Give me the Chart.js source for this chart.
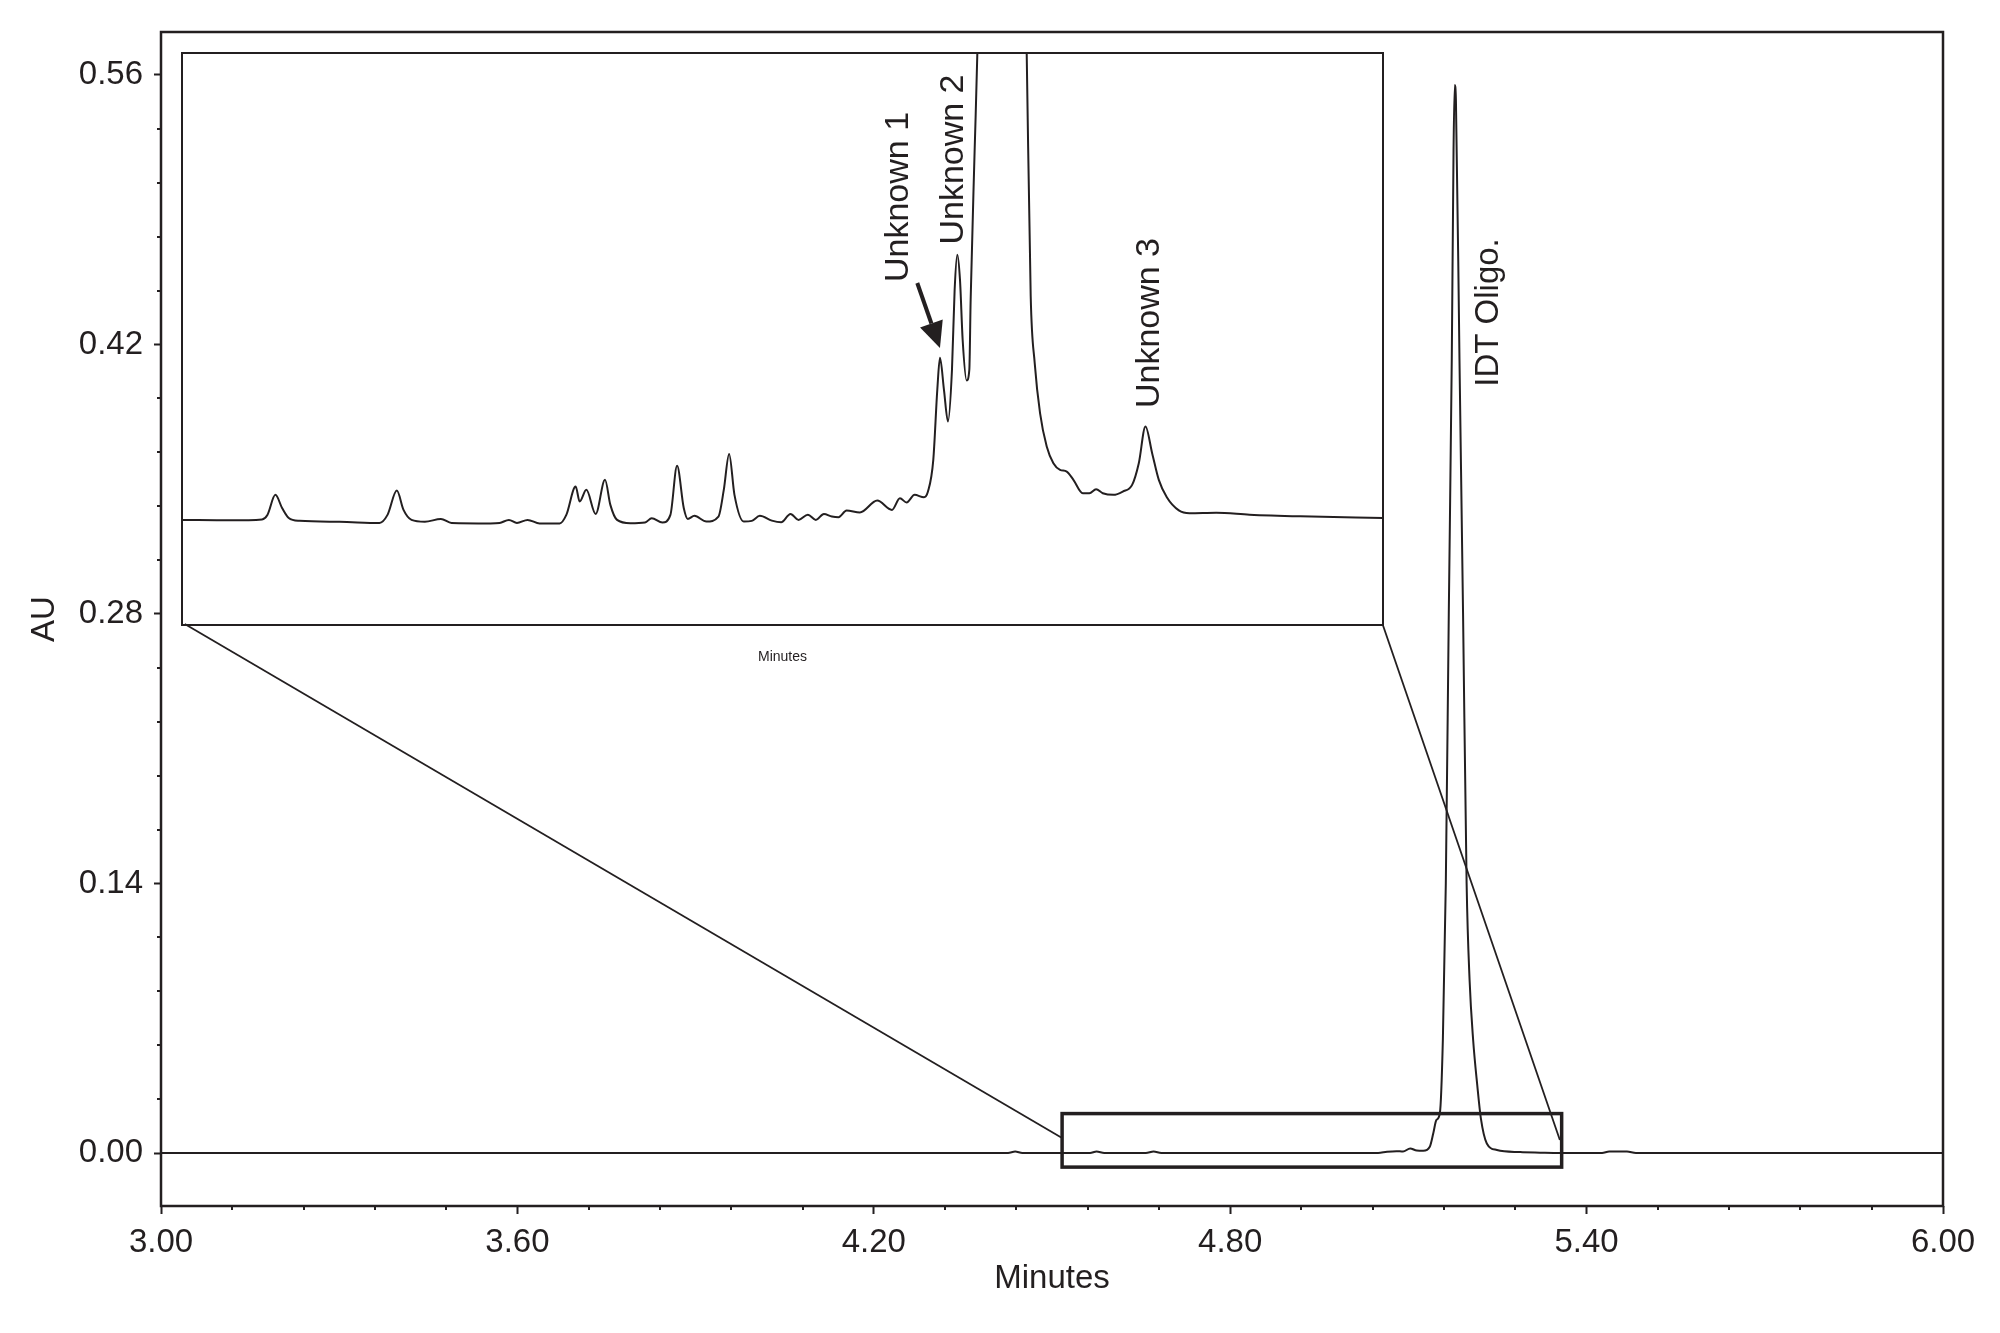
<!DOCTYPE html>
<html>
<head>
<meta charset="utf-8">
<script src="https://cdn.jsdelivr.net/npm/chart.js@4.4.1/dist/chart.umd.min.js"></script>
<style>
  html, body { margin: 0; padding: 0; background: #fff; }
  #wrap { position: relative; width: 2000px; height: 1333px; }
  #main { position: absolute; left: 0; top: 0; }
  #inset { position: absolute; }
</style>
</head>
<body>
<div id="wrap">
  <canvas id="main" width="2000" height="1333"></canvas>
  <canvas id="inset"></canvas>
</div>
<script>
const INK = '#231f20';
const FONT = "'Liberation Sans', Arial, Helvetica, sans-serif";

// full chromatogram (minutes / AU)
const mainTime = [3.000, 4.426, 4.438, 4.450, 4.564, 4.575, 4.588, 4.658, 4.671, 4.684,
  5.049, 5.064, 5.080, 5.091, 5.103, 5.114, 5.125, 5.136, 5.142, 5.147,
  5.153, 5.158, 5.163, 5.168, 5.173, 5.176, 5.178, 5.180, 5.186, 5.192,
  5.198, 5.203, 5.209, 5.216, 5.222, 5.232, 5.249, 5.288, 5.322, 5.355,
  5.426, 5.438, 5.468, 5.483, 6.000];
const mainAU = [0, 0, 0.0008, 0, 0, 0.0008, 0, 0, 0.0008, 0,
  0, 0.0007, 0.0010, 0.0008, 0.0024, 0.0013, 0.0012, 0.0033, 0.0104, 0.0171,
  0.0208, 0.0587, 0.1403, 0.2805, 0.4119, 0.5210, 0.5548, 0.5470, 0.4119, 0.2805,
  0.1403, 0.0899, 0.0587, 0.0350, 0.0180, 0.0050, 0.0016, 0.0005, 0.0002, 0,
  0, 0.0008, 0.0008, 0, 0];

// expanded view (minutes / mAU)
const insetTime = [4.500, 4.536, 4.560, 4.564, 4.570, 4.575, 4.580, 4.588, 4.618, 4.648,
  4.654, 4.661, 4.666, 4.672, 4.682, 4.694, 4.702, 4.731, 4.738, 4.745,
  4.751, 4.759, 4.768, 4.783, 4.788, 4.795, 4.798, 4.803, 4.810, 4.817,
  4.821, 4.826, 4.836, 4.847, 4.852, 4.860, 4.866, 4.871, 4.876, 4.879,
  4.884, 4.893, 4.902, 4.906, 4.910, 4.914, 4.921, 4.927, 4.933, 4.942,
  4.949, 4.956, 4.962, 4.969, 4.975, 4.981, 4.987, 4.992, 4.998, 5.008,
  5.021, 5.032, 5.038, 5.043, 5.049, 5.056, 5.059, 5.063, 5.066, 5.068,
  5.071, 5.074, 5.077, 5.079, 5.081, 5.083, 5.085, 5.088, 5.090, 5.091,
  5.094, 5.096, 5.102, 5.113, 5.127, 5.133, 5.136, 5.139, 5.143, 5.148,
  5.153, 5.158, 5.163, 5.168, 5.175, 5.180, 5.185, 5.190, 5.198, 5.205,
  5.212, 5.217, 5.222, 5.227, 5.232, 5.238, 5.247, 5.255, 5.275, 5.300,
  5.338, 5.400];
const insetMAU = [0, -0.02, 0.02, 0.21, 1.05, 0.50, 0.08, -0.04, -0.08, -0.13,
  0.21, 1.23, 0.42, 0, -0.08, 0.04, -0.13, -0.15, -0.13, 0,
  -0.13, 0, -0.15, -0.15, 0.21, 1.40, 0.77, 1.26, 0.25, 1.68,
  0.63, 0, -0.14, -0.11, 0.07, -0.11, 0.21, 2.27, 0.50, 0.04,
  0.17, -0.07, 0.14, 1.26, 2.77, 1.05, -0.07, -0.04, 0.17, -0.03,
  -0.10, 0.25, 0, 0.22, 0, 0.25, 0.14, 0.11, 0.39, 0.31,
  0.81, 0.42, 0.91, 0.73, 1.05, 0.95, 1.19, 2.52, 5.46, 6.80,
  5.46, 4.13, 6.30, 9.66, 11.13, 10.08, 7.56, 5.85, 6.30, 9.24,
  15.54, 19.57, 38.6, 55.4, 38.6, 19.57, 9.38, 6.58, 4.48, 3.08,
  2.38, 2.10, 2.03, 1.68, 1.12, 1.12, 1.29, 1.12, 1.05, 1.19,
  1.47, 2.38, 3.92, 2.80, 1.68, 0.95, 0.40, 0.28, 0.30, 0.22,
  0.15, 0.08];

const xTicks = [3.00, 3.60, 4.20, 4.80, 5.40, 6.00];
const yTicks = [0.00, 0.14, 0.28, 0.42, 0.56];

const mainLabels = [{ text: 'IDT Oligo.', x: 5.235, y: 0.4366 }];
const insetLabels = [
  { text: 'Unknown 1', x: 5.037, y: 13.55 },
  { text: 'Unknown 2', x: 5.078, y: 15.12 },
  { text: 'Unknown 3', x: 5.225, y: 8.26 }
];

// where the zoom box / inset sit, in main-chart units
const zoomBox = { x0: 4.517, x1: 5.358, y0: -0.0073, y1: 0.0205 };
const insetBox = { x0: 3.0354, x1: 5.0572, y0: 0.2743, y1: 0.5712 };
const connectors = [[3.040, 0.2748, 4.517, 0.0078], [5.057, 0.2743, 5.355, 0.0068]];
const arrow = { x0: 5.051, y0: 9.94, x1: 5.068, y1: 7.21 };

function rotText(ctx, text, x, y, size) {
  ctx.save();
  ctx.translate(x, y);
  ctx.rotate(-Math.PI / 2);
  ctx.font = size + 'px ' + FONT;
  ctx.fillStyle = INK;
  ctx.textAlign = 'center';
  ctx.textBaseline = 'middle';
  ctx.fillText(text, 0, 0);
  ctx.restore();
}

const mainDecor = {
  id: 'mainDecor',
  afterDraw(chart) {
    const { ctx, chartArea: a, scales: { x, y } } = chart;
    ctx.save();
    ctx.strokeStyle = INK;
    ctx.lineWidth = 2.5;
    ctx.strokeRect(a.left, a.top, a.right - a.left, a.bottom - a.top);

    // minor ticks
    ctx.lineWidth = 2;
    ctx.beginPath();
    for (let i = 1; i < 25; i++) {
      if (i % 5 === 0) continue;
      const px = Math.round(x.getPixelForValue(3 + i * 0.12));
      ctx.moveTo(px, a.bottom);
      ctx.lineTo(px, a.bottom + 4);
    }
    for (let i = 1; i < 21; i++) {
      if (i % 5 === 0) continue;
      const py = Math.round(y.getPixelForValue(i * 0.028));
      ctx.moveTo(a.left, py);
      ctx.lineTo(a.left - 4, py);
    }
    ctx.stroke();

    // connector lines
    ctx.lineWidth = 1.8;
    connectors.forEach(c => {
      ctx.beginPath();
      ctx.moveTo(x.getPixelForValue(c[0]), y.getPixelForValue(c[1]));
      ctx.lineTo(x.getPixelForValue(c[2]), y.getPixelForValue(c[3]));
      ctx.stroke();
    });

    // zoom box
    ctx.lineWidth = 3.5;
    const bx = x.getPixelForValue(zoomBox.x0), by = y.getPixelForValue(zoomBox.y1);
    ctx.strokeRect(bx, by, x.getPixelForValue(zoomBox.x1) - bx, y.getPixelForValue(zoomBox.y0) - by);

    mainLabels.forEach(l => rotText(ctx, l.text, x.getPixelForValue(l.x), y.getPixelForValue(l.y), 33));
    ctx.restore();
  }
};

const mainChart = new Chart(document.getElementById('main'), {
  type: 'line',
  data: {
    datasets: [{
      data: mainTime.map((t, i) => ({ x: t, y: mainAU[i] })),
      borderColor: INK,
      borderWidth: 2,
      pointRadius: 0,
      cubicInterpolationMode: 'monotone',
      fill: false
    }]
  },
  options: {
    responsive: false,
    animation: false,
    devicePixelRatio: 1,
    layout: { padding: { left: 0, right: 57, top: 32, bottom: 0 } },
    plugins: { legend: { display: false }, tooltip: { enabled: false } },
    scales: {
      x: {
        type: 'linear', min: 3, max: 6,
        afterFit: s => { s.height = 127; },
        afterBuildTicks: s => { s.ticks = xTicks.map(v => ({ value: v })); },
        grid: { display: true, drawOnChartArea: false, tickLength: 8, tickWidth: 2, tickColor: INK },
        border: { display: false },
        ticks: { color: INK, font: { family: FONT, size: 33 }, padding: 9, maxRotation: 0, callback: v => Number(v).toFixed(2) },
        title: { display: true, text: 'Minutes', color: INK, font: { family: FONT, size: 33 }, padding: { top: 0, bottom: 34 } }
      },
      y: {
        type: 'linear', min: -0.0275, max: 0.5823,
        afterFit: s => { s.width = 161; },
        afterBuildTicks: s => { s.ticks = yTicks.map(v => ({ value: v })); },
        grid: { display: true, drawOnChartArea: false, tickLength: 7, tickWidth: 2, tickColor: INK },
        border: { display: false },
        ticks: { color: INK, font: { family: FONT, size: 33 }, padding: 11, callback: v => Number(v).toFixed(2) },
        title: { display: true, text: 'AU', color: INK, font: { family: FONT, size: 33 }, padding: { top: 25, bottom: 0 } }
      }
    }
  },
  plugins: [mainDecor]
});

// place the inset canvas from the main chart's own scales
const mx = mainChart.scales.x, my = mainChart.scales.y;
const iLeft = Math.round(mx.getPixelForValue(insetBox.x0));
const iRight = Math.round(mx.getPixelForValue(insetBox.x1));
const iTop = Math.round(my.getPixelForValue(insetBox.y1));
const iBottom = Math.round(my.getPixelForValue(insetBox.y0));
const PAD = 4, BELOW = 50;
const insetCanvas = document.getElementById('inset');
insetCanvas.width = iRight - iLeft + 2 * PAD;
insetCanvas.height = iBottom - iTop + PAD + BELOW;
insetCanvas.style.left = (iLeft - PAD) + 'px';
insetCanvas.style.top = (iTop - PAD) + 'px';

const insetDecor = {
  id: 'insetDecor',
  afterDraw(chart) {
    const { ctx, chartArea: a, scales: { x, y } } = chart;
    ctx.save();
    ctx.strokeStyle = INK;
    ctx.fillStyle = INK;
    ctx.lineWidth = 2;
    ctx.strokeRect(a.left, a.top, a.right - a.left, a.bottom - a.top);

    insetLabels.forEach(l => rotText(ctx, l.text, x.getPixelForValue(l.x), y.getPixelForValue(l.y), 34));

    // arrow to Unknown 1
    const sx = x.getPixelForValue(arrow.x0), sy = y.getPixelForValue(arrow.y0);
    const tx = x.getPixelForValue(arrow.x1), ty = y.getPixelForValue(arrow.y1);
    const len = Math.hypot(tx - sx, ty - sy);
    const ux = (tx - sx) / len, uy = (ty - sy) / len;
    const head = 26, half = 12;
    const hx = tx - ux * head, hy = ty - uy * head;
    ctx.lineWidth = 4;
    ctx.beginPath();
    ctx.moveTo(sx, sy);
    ctx.lineTo(hx, hy);
    ctx.stroke();
    ctx.beginPath();
    ctx.moveTo(tx, ty);
    ctx.lineTo(hx - uy * half, hy + ux * half);
    ctx.lineTo(hx + uy * half, hy - ux * half);
    ctx.closePath();
    ctx.fill();

    ctx.font = '14px ' + FONT;
    ctx.textAlign = 'center';
    ctx.textBaseline = 'middle';
    ctx.fillText('Minutes', (a.left + a.right) / 2, a.bottom + 32);
    ctx.restore();
  }
};

new Chart(insetCanvas, {
  type: 'line',
  data: {
    datasets: [{
      data: insetTime.map((t, i) => ({ x: t, y: insetMAU[i] })),
      borderColor: INK,
      borderWidth: 2,
      pointRadius: 0,
      cubicInterpolationMode: 'monotone',
      fill: false
    }]
  },
  options: {
    responsive: false,
    animation: false,
    devicePixelRatio: 1,
    layout: { padding: { left: PAD, right: PAD, top: PAD, bottom: BELOW } },
    plugins: { legend: { display: false }, tooltip: { enabled: false } },
    scales: {
      x: { type: 'linear', display: false, min: 4.5, max: 5.4 },
      y: { type: 'linear', display: false, min: -4.41, max: 19.59 }
    }
  },
  plugins: [insetDecor]
});
</script>
</body>
</html>
